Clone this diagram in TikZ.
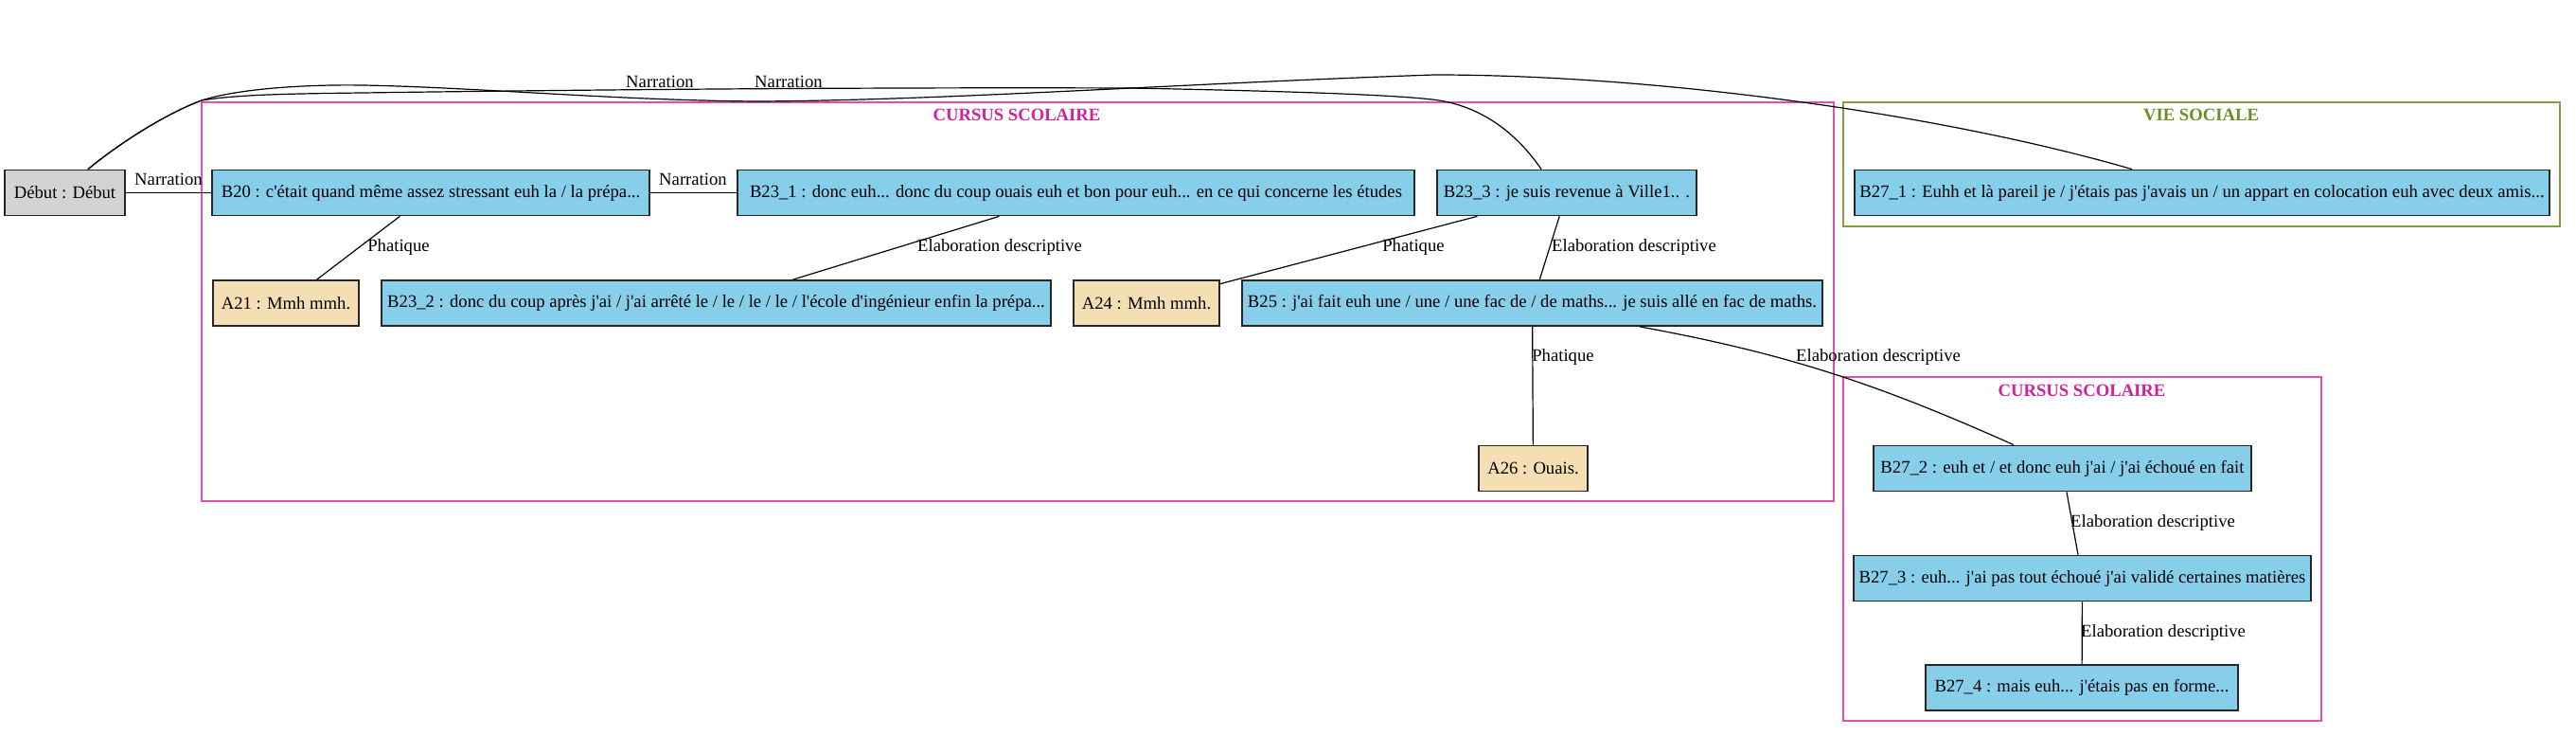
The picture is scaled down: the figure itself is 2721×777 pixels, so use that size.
\documentclass[tikz,border=0pt]{standalone}
\usepackage{fontspec}
\setmainfont{Liberation Serif}[Ligatures=TeXOff]
\usetikzlibrary{calc}
\definecolor{skyb}{HTML}{87CEEB}
\definecolor{wheatc}{HTML}{F5DEB3}
\definecolor{lgray}{HTML}{D3D3D3}
\definecolor{pinkc}{HTML}{D4209A}
\definecolor{pinkb}{HTML}{E050B0}
\definecolor{greenc}{HTML}{6B8E23}
\definecolor{greenb}{HTML}{7FA040}
\tikzset{
  x=0.75pt, y=-0.75pt,
  every node/.style={font=\fontsize{14}{16}\selectfont, inner sep=0pt},
  bbox/.style={draw=black!85, line width=1.3pt, minimum height=36pt, anchor=center},
  sbox/.style={bbox, fill=skyb},
  wbox/.style={bbox, fill=wheatc},
  gbox/.style={bbox, fill=lgray},
  edge/.style={draw=black, line width=0.9pt},
  elab/.style={anchor=center},
  pclus/.style={draw=pinkb, line width=0.9pt},
  gclus/.style={draw=greenb, line width=0.9pt},
  plab/.style={text=pinkc, font=\fontsize{14}{16}\selectfont\bfseries},
  glab/.style={text=greenc, font=\fontsize{14}{16}\selectfont\bfseries},
}
\begin{document}
\begin{tikzpicture}
\useasboundingbox (0,0) rectangle (2721,777);
% clusters
\draw[pclus] (213,108) rectangle (1937,529);
\draw[gclus] (1947,108) rectangle (2704,239);
\draw[pclus] (1947,398) rectangle (2452,761);
\node[plab] (c1lab) at (1074,121) {CURSUS SCOLAIRE};
\node[glab] (c2lab) at (2325,121) {VIE SOCIALE};
\node[plab] (c3lab) at (2199,412) {CURSUS SCOLAIRE};
% nodes
\node[gbox, minimum width=95.25pt] (deb) at (68.5,203.5) {Début : Début};
\node[sbox, minimum width=346.5pt] (B20) at (455,203.5) {B20 : c'était quand même assez stressant euh la / la prépa...};
\node[sbox, minimum width=536.25pt] (B231) at (1136.5,203.5) {B23\_1 : donc euh... donc du coup ouais euh et bon pour euh... en ce qui concerne les études};
\node[sbox, minimum width=205.5pt] (B233) at (1655,203.5) {B23\_3 : je suis revenue à Ville1.. .};
\node[sbox, minimum width=550.5pt] (B271) at (2326,203.5) {B27\_1 : Euhh et là pareil je / j'étais pas j'avais un / un appart en colocation euh avec deux amis...};
\node[wbox, minimum width=115.5pt] (A21) at (302,320) {A21 : Mmh mmh.};
\node[sbox, minimum width=530.25pt] (B232) at (756.5,320) {B23\_2 : donc du coup après j'ai / j'ai arrêté le / le / le / le / l'école d'ingénieur enfin la prépa...};
\node[wbox, minimum width=115.5pt] (A24) at (1211,320) {A24 : Mmh mmh.};
\node[sbox, minimum width=459.75pt] (B25) at (1618.5,320) {B25 : j'ai fait euh une / une / une fac de / de maths... je suis allé en fac de maths.};
\node[wbox, minimum width=86.25pt] (A26) at (1619.5,494.5) {A26 : Ouais.};
\node[sbox, minimum width=299.25pt] (B272) at (2178.5,494.5) {B27\_2 : euh et / et donc euh j'ai / j'ai échoué en fait};
\node[sbox, minimum width=362.25pt] (B273) at (2199.5,610.5) {B27\_3 : euh... j'ai pas tout échoué j'ai validé certaines matières};
\node[sbox, minimum width=247.5pt] (B274) at (2199,726) {B27\_4 : mais euh... j'étais pas en forme...};
% edges
\draw[edge] (deb) -- (B20);
\draw[edge] (B20) -- (B231);
\draw[edge] (B20) -- (A21);
\draw[edge] (B231) -- (B232);
\draw[edge] (B233) -- (A24);
\draw[edge] (B233) -- (B25);
\draw[edge] (B25) -- (A26);
\draw[edge] (B272) -- (B273);
\draw[edge] (B273) -- (B274);
\draw[edge] ($(B25.south)+(113.5,0)$) .. controls (1882,372.5) and (1977,402.5) .. ($(B272.north)+(-51.5,0)$);
% long curves
\draw[edge] ($(deb.north)+(24.5,0)$) .. controls (125,152) and (175,120) .. (213,106)
   .. controls (250,100) and (300,99) .. (383,98)
   .. controls (600,95) and (900,92) .. (1194,93)
   .. controls (1350,96) and (1480,100) .. (1520,106)
   .. controls (1570,114) and (1605,145) .. ($(B233.north)+(-27,0)$);
\draw[edge] ($(deb.north)+(24.5,0)$) .. controls (125,152) and (175,120) .. (213,106)
   .. controls (250,94) and (320,89) .. (383,90)
   .. controls (500,92) and (650,106) .. (800,107)
   .. controls (1000,106) and (1250,88) .. (1515,79)
   .. controls (1750,79) and (2050,120) .. ($(B271.north)+(-74,0)$);
% edge labels
\node[elab] (l1) at (178,189) {Narration};
\node[elab] (l2) at (732,189) {Narration};
\node[elab] (l3) at (421,261) {Phatique};
\node[elab] (l4) at (1056,261) {Elaboration descriptive};
\node[elab] (l5) at (1493,261) {Phatique};
\node[elab] (l6) at (1726,261) {Elaboration descriptive};
\node[elab] (l7) at (1651,377) {Phatique};
\node[elab] (l8) at (1984,377) {Elaboration descriptive};
\node[elab] (l9) at (2274,552) {Elaboration descriptive};
\node[elab] (l10) at (2285,668) {Elaboration descriptive};
\node[elab] (l11) at (697,86) {Narration};
\node[elab] (l12) at (833,86) {Narration};
\end{tikzpicture}
\end{document}
